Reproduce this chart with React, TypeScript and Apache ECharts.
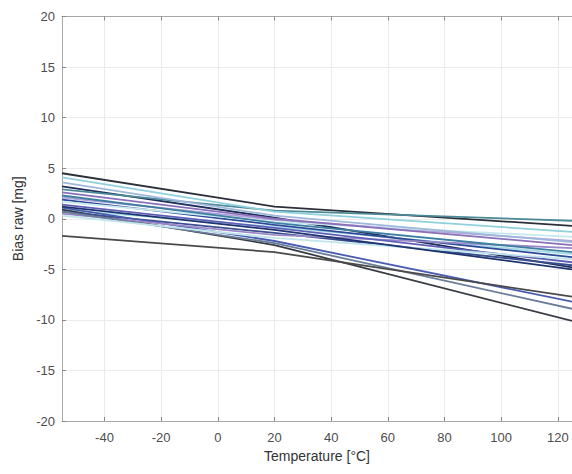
import React, { useEffect, useRef } from "react";
import * as echarts from "echarts";

// Temperatures of the fitted points (°C)
const temps = [-55, 20, 125];

// Bias raw [mg] at -55 °C, 20 °C and 125 °C for each sensor
const sensorBias: number[][] = [
  [4.5, 1.2, -0.7],
  [0.9, -2.6, -10.1],
  [4.1, 0.7, -1.3],
  [0.7, -2.4, -8.9],
  [3.6, 0.3, -2.3],
  [3.2, 0.1, -4.8],
  [2.9, 0.8, -0.2],
  [1.1, -2.2, -8.2],
  [2.6, 0.0, -2.6],
  [2.3, -0.4, -3.3],
  [2.1, -0.1, -2.2],
  [1.9, -0.6, -3.8],
  [1.7, -0.3, -1.8],
  [1.4, -0.9, -4.3],
  [1.2, -1.1, -5.0],
  [0.9, -0.8, -3.5],
  [0.7, -1.4, -4.6],
  [0.5, -1.6, -2.9],
  [0.3, -1.9, -4.0],
  [-1.7, -3.3, -7.7],
];

const sensorColors = [
  "#2a2f3a", "#383c44", "#8fd0dc", "#6a7d99", "#9fb8dc",
  "#1f2f5c", "#4d8a98", "#4a5cb0", "#8a70b8", "#3d7fa0",
  "#b3a3dc", "#2c4a9a", "#c6e8ee", "#5f5fb8", "#1e3470",
  "#a6dce6", "#3b4f8f", "#9b88c8", "#c0e4ec", "#4a4a4a",
];

const xTicks = [-40, -20, 0, 20, 40, 60, 80, 100, 120];

export default function App() {
  const ref = useRef<HTMLDivElement>(null);
  useEffect(() => {
    if (!ref.current) return;
    const chart = echarts.init(ref.current, null, { renderer: "svg" });
    const labelStyle = { color: "#4d4d4d", fontSize: 13, fontFamily: "Liberation Sans, Arial, sans-serif" };
    const axisLine = { show: true, onZero: false, lineStyle: { color: "#a8a8a8", width: 1 } };
    const splitLine = { show: true, lineStyle: { color: "#ebebeb", width: 1 } };
    chart.setOption({
      animation: false,
      backgroundColor: "#ffffff",
      grid: { left: 62, right: -5, top: 16.5, bottom: 53, containLabel: false },
      xAxis: [
        {
          type: "value",
          position: "bottom",
          min: -55,
          max: 125,
          name: "Temperature [°C]",
          nameLocation: "middle",
          nameGap: 28,
          nameTextStyle: { ...labelStyle, fontSize: 14, color: "#333" },
          axisLine,
          axisTick: { show: true, inside: true, length: 4, customValues: xTicks, lineStyle: { color: "#888" } },
          axisLabel: { ...labelStyle, margin: 10, customValues: xTicks },
          splitLine,
        },
        {
          type: "value",
          position: "top",
          min: -55,
          max: 125,
          axisLine,
          axisTick: { show: true, inside: true, length: 4, customValues: xTicks, lineStyle: { color: "#888" } },
          axisLabel: { show: false },
          splitLine: { show: false },
        },
      ],
      yAxis: {
        type: "value",
        min: -20,
        max: 20,
        interval: 5,
        name: "Bias raw [mg]",
        nameLocation: "middle",
        nameGap: 36,
        nameTextStyle: { ...labelStyle, fontSize: 14, color: "#333" },
        axisLine,
        axisTick: { show: true, inside: true, length: 4, lineStyle: { color: "#888" } },
        axisLabel: { ...labelStyle, margin: 7 },
        splitLine,
      },
      series: sensorBias.map((vals, i) => ({
        type: "line",
        xAxisIndex: 0,
        data: temps.map((t, j) => [t, vals[j]]),
        showSymbol: false,
        symbol: "none",
        lineStyle: { color: sensorColors[i], width: 1.8 },
        z: 2 + (i % 5),
      })),
    });
    return () => chart.dispose();
  }, []);
  return (
    <div
      ref={ref}
      style={{ position: "fixed", left: 0, top: 0, width: 572, height: 474 }}
    />
  );
}
